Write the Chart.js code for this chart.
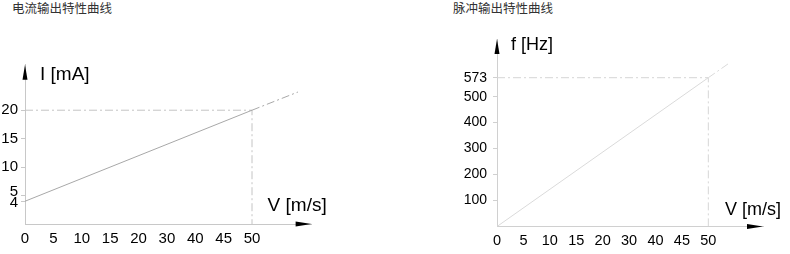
<!DOCTYPE html>
<html>
<head>
<meta charset="utf-8">
<script src="https://cdn.jsdelivr.net/npm/chart.js@4.4.1/dist/chart.umd.min.js"></script>
<style>
  body { margin: 0; background: #fff; width: 790px; height: 254px; position: relative; overflow: hidden; }
  canvas { position: absolute; top: 0; }
  .title { position: absolute; top: 0; font: 12.5px/16px "Noto Sans CJK SC", sans-serif; color: #333; }
</style>
</head>
<body>
<div class="title" style="left:12px">电流输出特性曲线</div>
<div class="title" style="left:453px">脉冲输出特性曲线</div>
<canvas id="current" width="340" height="254" style="left:0"></canvas>
<canvas id="pulse" width="350" height="254" style="left:440px"></canvas>
<script>
// V [m/s] tick labels, drawn evenly spaced like the original sheet
const speedTicks = [0, 5, 10, 15, 20, 30, 40, 45, 50];

// current output: I [mA] at V = 0 and V = 50, plus where the dashed tail ends
const currentTicks = [4, 5, 10, 15, 20];
const currentValues = [4, 20];
const currentTail = [9.62, 23.2];   // [tick position, mA]

// pulse output: f [Hz] at V = 0 and V = 50, plus the dashed tail end
const pulseTicks = [100, 200, 300, 400, 500, 573];
const pulseValues = [0, 573];
const pulseTail = [8.83, 632];      // [tick position, Hz]

const FONT = '"Liberation Sans", Arial, sans-serif';
const DASH = [8, 3, 2, 3];

const axisDeco = {
  id: 'axisDeco',
  afterDraw(chart, args, opts) {
    const { ctx, chartArea: a } = chart;
    const y = chart.scales.y;
    ctx.save();
    // arrows
    ctx.fillStyle = '#000';
    ctx.beginPath();
    ctx.moveTo(a.left, a.top);
    ctx.lineTo(a.left - 2.5, a.top + 15);
    ctx.lineTo(a.left + 2.5, a.top + 15);
    ctx.closePath();
    ctx.fill();
    ctx.beginPath();
    ctx.moveTo(a.right, a.bottom);
    ctx.lineTo(a.right - 16, a.bottom - 2.5);
    ctx.lineTo(a.right - 16, a.bottom + 2.5);
    ctx.closePath();
    ctx.fill();
    // y tick labels
    ctx.font = opts.tickFont + 'px ' + FONT;
    ctx.textAlign = 'right';
    ctx.textBaseline = 'middle';
    y.ticks.forEach(t => {
      const nudge = (opts.nudge && opts.nudge[t.value]) || 0;
      ctx.fillText(String(t.value), a.left - opts.tickGap, y.getPixelForValue(t.value) + nudge);
    });
    // axis titles
    ctx.textAlign = 'left';
    ctx.textBaseline = 'alphabetic';
    ctx.font = opts.titleFont + 'px ' + FONT;
    ctx.fillText(opts.yTitle, a.left + opts.yTitlePos[0], a.top + opts.yTitlePos[1]);
    ctx.fillText(opts.xTitle, a.right + opts.xTitlePos[0], a.bottom + opts.xTitlePos[1]);
    ctx.restore();
  }
};

function makeChart(id, c) {
  const canvas = document.getElementById(id);
  const W = canvas.width, H = canvas.height;
  const last = speedTicks.length - 1;
  return new Chart(canvas, {
    type: 'scatter',
    data: {
      datasets: [
        {
          data: [
            { x: 0, y: c.values[0] },
            { x: last, y: c.values[1] },
            { x: c.tail[0], y: c.tail[1] }
          ],
          showLine: true,
          borderColor: c.lineColor,
          borderWidth: 1,
          pointRadius: 0,
          segment: { borderDash: s => (s.p0DataIndex >= 1 ? DASH : undefined) }
        },
        {
          data: [
            { x: 0, y: c.values[1] },
            { x: last, y: c.values[1] },
            { x: last, y: 0 }
          ],
          showLine: true,
          borderColor: c.guideColor,
          borderWidth: 1,
          borderDash: DASH,
          pointRadius: 0
        }
      ]
    },
    options: {
      responsive: false,
      animation: false,
      devicePixelRatio: 1,
      layout: { padding: { left: 0, top: c.area.top, right: W - c.area.right, bottom: 0 } },
      plugins: {
        legend: { display: false },
        tooltip: { enabled: false },
        axisDeco: c.deco
      },
      scales: {
        x: {
          type: 'linear',
          min: 0,
          max: c.xMax,
          afterFit: s => { s.height = H - c.area.bottom; },
          afterBuildTicks: s => { s.ticks = speedTicks.map((v, i) => ({ value: i })); },
          ticks: {
            callback: v => String(speedTicks[v]),
            font: { family: FONT, size: c.xFont },
            color: '#000',
            padding: c.xPad,
            maxRotation: 0,
            autoSkip: false
          },
          grid: { display: false, drawTicks: false },
          border: { color: c.axisColor, width: 1 }
        },
        y: {
          min: 0,
          max: c.yMax,
          afterFit: s => { s.width = c.area.left; },
          afterBuildTicks: s => { s.ticks = c.yTicks.map(v => ({ value: v })); },
          ticks: { display: false },
          grid: { drawOnChartArea: false, drawTicks: true, tickLength: 4, color: c.axisColor },
          border: { color: c.axisColor, width: 1 }
        }
      }
    },
    plugins: [axisDeco]
  });
}

makeChart('current', {
  values: currentValues,
  tail: currentTail,
  yTicks: currentTicks,
  yMax: 28,
  xMax: 10.1,
  area: { left: 25, top: 64.7, right: 311.6, bottom: 224 },
  lineColor: '#a8a8a8',
  guideColor: '#c4c4c4',
  axisColor: '#c8c8c8',
  xFont: 15,
  xPad: 6,
  deco: {
    tickFont: 15, tickGap: 7, nudge: { 5: -3.5, 4: 1.5 },
    titleFont: 19, yTitle: 'I [mA]', yTitlePos: [15, 15],
    xTitle: 'V [m/s]', xTitlePos: [-44, -13]
  }
});

makeChart('pulse', {
  values: pulseValues,
  tail: pulseTail,
  yTicks: pulseTicks,
  yMax: 722,
  xMax: 10.07,
  area: { left: 57, top: 39, right: 323, bottom: 226.5 },
  lineColor: '#dadada',
  guideColor: '#d6d6d6',
  axisColor: '#d0d0d0',
  xFont: 14.5,
  xPad: 6,
  deco: {
    tickFont: 14, tickGap: 10,
    titleFont: 18, yTitle: 'f [Hz]', yTitlePos: [14, 11],
    xTitle: 'V [m/s]', xTitlePos: [-38, -11.5]
  }
});
</script>
</body>
</html>
